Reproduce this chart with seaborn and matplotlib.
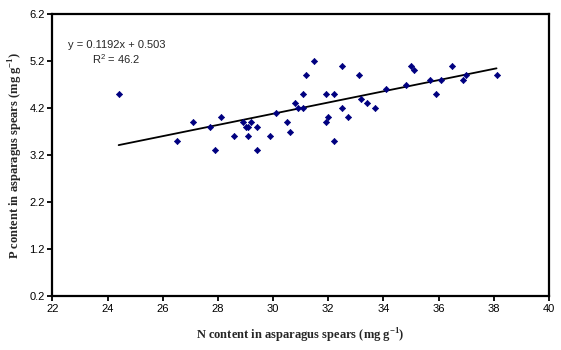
import matplotlib
matplotlib.use("Agg")
import matplotlib.pyplot as plt
import seaborn as sns
import numpy as np
import pandas as pd

n_content = [24.4, 26.5, 27.1, 27.7, 27.9, 28.1, 28.6, 28.9, 29.0, 29.1, 29.1, 29.2,
             29.4, 29.4, 29.9, 30.1, 30.5, 30.6, 30.8, 30.9, 31.1, 31.1, 31.2, 31.5,
             31.9, 31.9, 32.0, 32.2, 32.2, 32.5, 32.5, 32.7, 33.1, 33.2, 33.4, 33.7,
             34.1, 34.8, 35.0, 35.1, 35.7, 35.9, 36.1, 36.5, 36.9, 37.0, 38.1]
p_content = [4.5, 3.5, 3.9, 3.8, 3.3, 4.0, 3.6, 3.9, 3.8, 3.8, 3.6, 3.9,
             3.8, 3.3, 3.6, 4.1, 3.9, 3.7, 4.3, 4.2, 4.5, 4.2, 4.9, 5.2,
             4.5, 3.9, 4.0, 4.5, 3.5, 5.1, 4.2, 4.0, 4.9, 4.4, 4.3, 4.2,
             4.6, 4.7, 5.1, 5.0, 4.8, 4.5, 4.8, 5.1, 4.8, 4.9, 4.9]
slope = 0.1192
intercept = 0.503
r2_label = "46.2"
x_ticks = [22, 24, 26, 28, 30, 32, 34, 36, 38, 40]
y_ticks = [0.2, 1.2, 2.2, 3.2, 4.2, 5.2, 6.2]

df = pd.DataFrame({"N": n_content, "P": p_content})

sns.set_style("white")
plt.rcParams["font.family"] = ["Liberation Sans", "DejaVu Sans"]

fig = plt.figure(figsize=(5.61, 3.5), dpi=100)
ax = fig.add_axes([0.0935, 0.154, 0.885, 0.806])

sns.scatterplot(data=df, x="N", y="P", ax=ax, marker="D", s=10,
                color="#000080", edgecolor="#000080", linewidth=0.5, zorder=3)

xl = np.array([min(n_content), max(n_content)])
line_df = pd.DataFrame({"x": xl, "y": slope * xl + intercept})
sns.lineplot(data=line_df, x="x", y="y", ax=ax, color="black", linewidth=1.3, zorder=2)

ax.set_xlim(22, 40)
ax.set_ylim(0.2, 6.2)
ax.set_xticks(x_ticks)
ax.set_yticks(y_ticks)
ax.set_xticklabels([str(t) for t in x_ticks])
ax.set_yticklabels([f"{t:.1f}" for t in y_ticks])
ax.tick_params(axis="both", direction="out", length=3.5, width=1.3, labelsize=8,
               colors="black", bottom=True, left=True, pad=2)

for s in ax.spines.values():
    s.set_visible(True)
    s.set_color("black")
    s.set_linewidth(1.6)

ax.set_xlabel("N content in asparagus spears (mg g$^{\\mathregular{-1}}$)",
              fontfamily="Liberation Serif", fontweight="bold", fontsize=9, labelpad=9)
ax.set_ylabel("P content in asparagus spears (mg g$^{\\mathregular{-1}}$)",
              fontfamily="Liberation Serif", fontweight="bold", fontsize=9, labelpad=3)

ax.text(24.32, 5.64, f"y = {slope}x + {intercept}\nR$^{{\\mathregular{{2}}}}$ = {r2_label}",
        ha="center", va="top", fontsize=8, linespacing=1.15)

fig.savefig("out.png", dpi=100)
